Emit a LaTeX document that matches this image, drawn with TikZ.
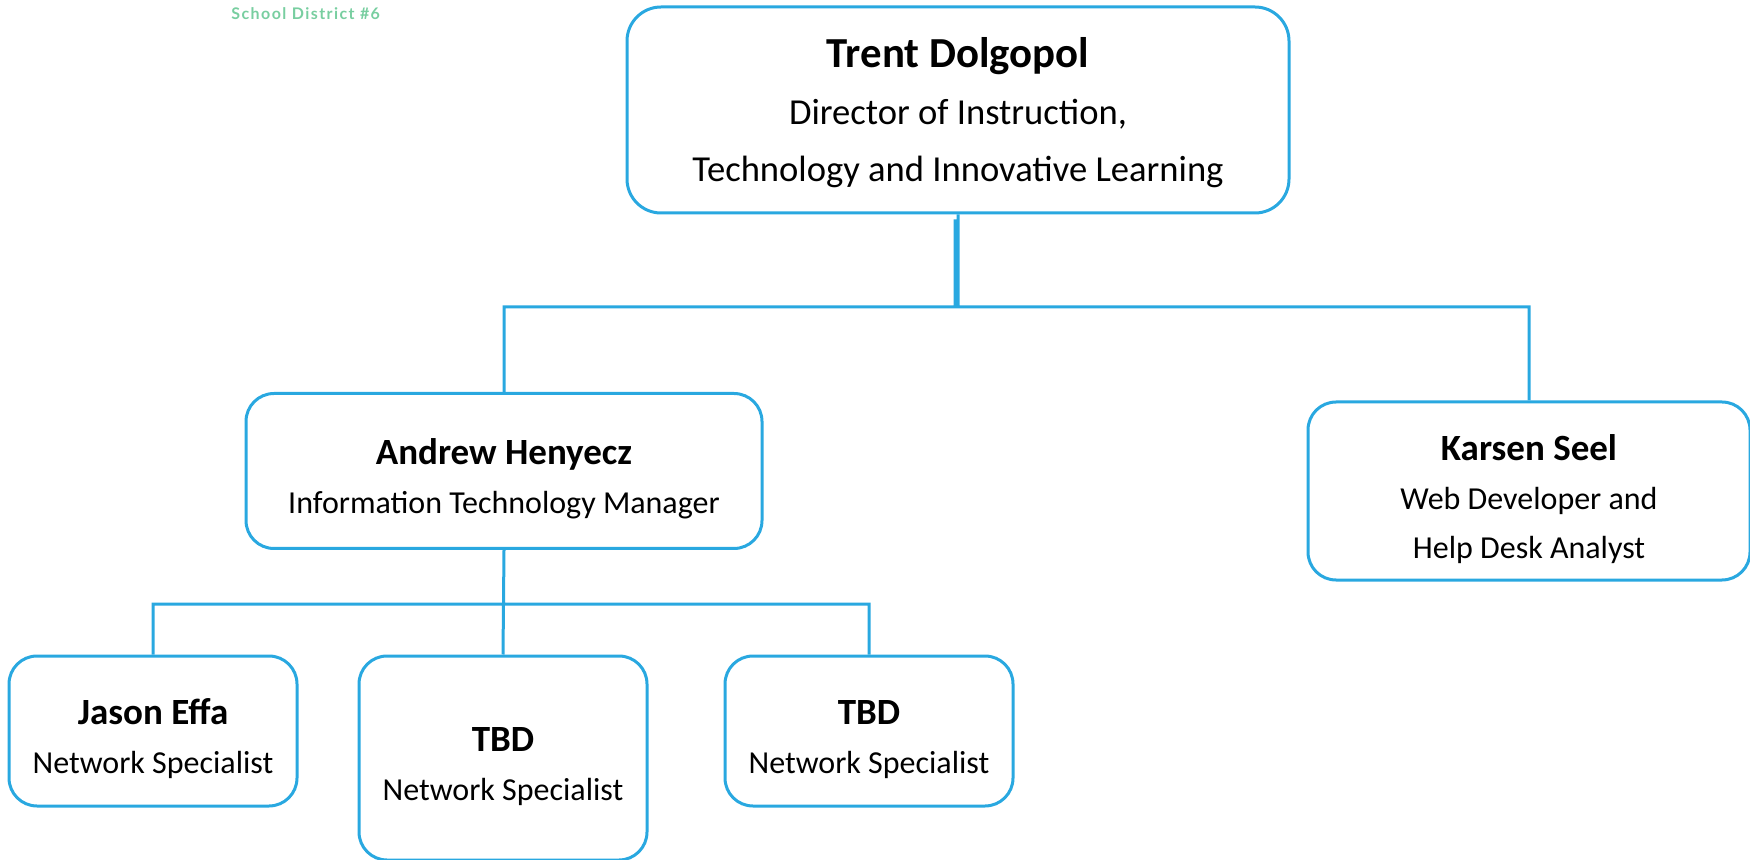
\documentclass[tikz,border=0pt]{standalone}
\usepackage{fontspec}
\setmainfont{Carlito}
\newfontfamily\districtfont[LetterSpace=9]{Lato}
\usepackage{tikz}

\definecolor{sdblue}{RGB}{41,168,224}
\definecolor{sdgreen}{RGB}{120,206,160}

\tikzset{
  unit/.style={draw=sdblue, line width=1.5pt, rounded corners=14pt,
    align=center, inner sep=0pt},
  link/.style={draw=sdblue, line width=1.5pt},
  big/.style={font=\fontsize{18.3}{28.5}\selectfont},
  small/.style={font=\fontsize{16}{24.5}\selectfont}
}
\newcommand{\who}[1]{{\bfseries\fontsize{18.5}{24.5}\selectfont\rule{0pt}{21pt}#1}}

\begin{document}
\begin{tikzpicture}[x=0.5pt,y=-0.5pt]
  \useasboundingbox (0,0) rectangle (1750,860);

  \node (district) [anchor=west, text=sdgreen, inner sep=0pt,
    font=\districtfont\bfseries\fontsize{8}{9}\selectfont] at (231,14) {School District \#6};

  \node (director) [unit, big, rounded corners=17pt, minimum width=331pt, minimum height=103pt]
    at (958,110) {{\bfseries\fontsize{21.4}{28.5}\selectfont\rule{0pt}{18pt}Trent Dolgopol}\\Director of Instruction,\\Technology and Innovative Learning};
  \node (manager) [unit, small, minimum width=258pt, minimum height=77.5pt]
    at (504,471) {\who{Andrew Henyecz}\\Information Technology Manager};
  \node (webdev) [unit, small, minimum width=221pt, minimum height=89pt]
    at (1529,491) {\who{Karsen Seel}\\Web Developer and\\Help Desk Analyst};
  \node (jason) [unit, small, minimum width=144pt, minimum height=75pt]
    at (153,731) {\who{Jason Effa}\\Network Specialist};
  \node (tbdone) [unit, small, minimum width=144pt, minimum height=102pt]
    at (503,758) {\who{TBD}\\Network Specialist};
  \node (tbdtwo) [unit, small, minimum width=144pt, minimum height=75pt]
    at (869,731) {\who{TBD}\\Network Specialist};

  \coordinate (topbar) at (958,307);
  \coordinate (midbar) at (504,604);

  \path[link]
    (director.south) -- (topbar)
    ([xshift=-1.5pt,yshift=-2.5pt]director.south) -- ([xshift=-1.5pt]topbar)
    (topbar) -| (manager.north)
    (topbar) -| (webdev.north)
    (manager.south) -- (tbdone.north)
    (midbar) -| (jason.north)
    (midbar) -| (tbdtwo.north);
\end{tikzpicture}
\end{document}
